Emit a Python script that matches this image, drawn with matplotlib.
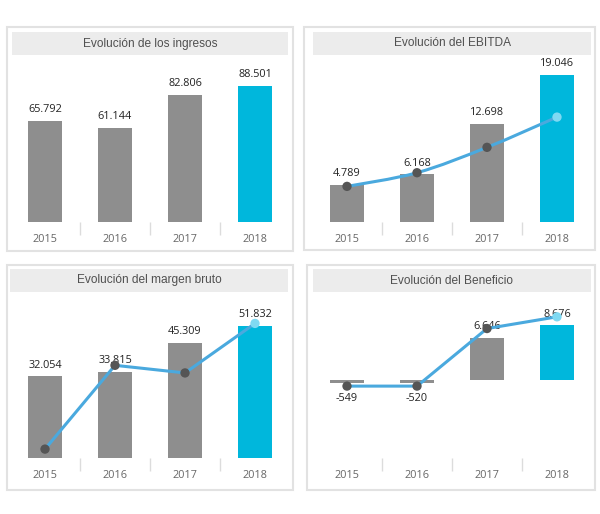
import numpy as np
import matplotlib.pyplot as plt
from matplotlib.patches import Rectangle, PathPatch
from matplotlib.path import Path

plt.rcParams['font.family'] = ['Open Sans', 'DejaVu Sans']

years = ['2015', '2016', '2017', '2018']

ingresos = [65792, 61144, 82806, 88501]
ebitda = [4789, 6168, 12698, 19046]
margen_bruto = [32054, 33815, 45309, 51832]
beneficio = [-549, -520, 6646, 8676]

# line overlays (secondary axis, % over revenue)
ebitda_pct = [7.3, 10.1, 15.3, 21.5]
bruto_pct = [48.7, 55.3, 54.7, 58.6]
neto_pct = [-0.85, -0.85, 8.0, 9.8]

GRAY = '#8e8e8e'
CYAN = '#00b7dc'
LINE = '#4aa9de'
W, H = 600, 514


def fr(x0, y0, x1, y1):
    # pixel box (top-left origin) -> figure fraction rect
    return [x0 / W, 1 - y1 / H, (x1 - x0) / W, (y1 - y0) / H]


def fmt(v):
    return f"{v:,}".replace(',', '.')


def smooth_path(xs, ys):
    pts = np.column_stack([xs, ys]).astype(float)
    verts = [pts[0]]
    codes = [Path.MOVETO]
    n = len(pts)
    for i in range(n - 1):
        p0 = pts[max(i - 1, 0)]
        p1 = pts[i]
        p2 = pts[i + 1]
        p3 = pts[min(i + 2, n - 1)]
        verts += [p1 + (p2 - p0) / 6, p2 - (p3 - p1) / 6, p2]
        codes += [Path.CURVE4] * 3
    return Path(verts, codes)


fig = plt.figure(figsize=(6, 5.14), dpi=100)

panels = [
    dict(title='Evolución de los ingresos', vals=ingresos, line=None,
         frame=(7, 27, 293, 251), head=(12, 32, 288, 55), ax=(10, 60, 290, 222),
         ylim=(0, 105400), y2=None, smooth=False),
    dict(title='Evolución del EBITDA', vals=ebitda, line=ebitda_pct,
         frame=(304, 27, 595, 250), head=(313, 32, 591, 55), ax=(312, 60, 592, 222),
         ylim=(0, 21000), y2=(0, 33.2), smooth=True),
    dict(title='Evolución del margen bruto', vals=margen_bruto, line=bruto_pct,
         frame=(7, 265, 293, 490), head=(10, 269, 288, 292), ax=(10, 296, 290, 458),
         ylim=(0, 63600), y2=(48.0, 60.76), smooth=False),
    dict(title='Evolución del Beneficio', vals=beneficio, line=neto_pct,
         frame=(307, 265, 595, 490), head=(313, 269, 591, 292), ax=(312, 296, 592, 458),
         ylim=(-12400, 13300), y2=(-11.9, 13.0), smooth=False),
]

for p in panels:
    x0, y0, x1, y1 = p['frame']
    fig.patches.append(Rectangle((x0 / W, 1 - y1 / H), (x1 - x0) / W, (y1 - y0) / H,
                                 transform=fig.transFigure, fill=False,
                                 edgecolor='#e2e2e2', lw=1.5))
    hx0, hy0, hx1, hy1 = p['head']
    fig.patches.append(Rectangle((hx0 / W, 1 - hy1 / H), (hx1 - hx0) / W, (hy1 - hy0) / H,
                                 transform=fig.transFigure, facecolor='#ececec',
                                 edgecolor='none'))
    fig.text((hx0 + hx1) / 2 / W, 1 - (hy0 + hy1) / 2 / H, p['title'],
             ha='center', va='center', fontsize=8.6, color='#505050',
             family=['Liberation Sans', 'DejaVu Sans'])

    ax = fig.add_axes(fr(*p['ax']))
    x = np.arange(len(years))
    colors = [GRAY] * (len(years) - 1) + [CYAN]
    ax.bar(x, p['vals'], width=0.48, color=colors, zorder=2)
    ax.set_xlim(-0.5, 3.5)
    ax.set_ylim(*p['ylim'])
    for s in ax.spines.values():
        s.set_visible(False)
    ax.set_yticks([])
    ax.set_xticks(x)
    ax.set_xticklabels(years, fontsize=7.8, color='#666666')
    ax.tick_params(axis='x', which='major', length=0, pad=8.5)
    ax.set_xticks([0.5, 1.5, 2.5], minor=True)
    ax.tick_params(axis='x', which='minor', length=9, color='#dcdcdc', width=1,
                   direction='out')
    for xi, v in zip(x, p['vals']):
        off = 8 if v >= 0 else -11
        ax.annotate(fmt(v), (xi, v), xytext=(0, off), textcoords='offset points',
                    ha='center', va='center', fontsize=7.8, color='#222222',
                    zorder=6)

    if p['line'] is not None:
        ax2 = ax.twinx()
        ax2.set_ylim(*p['y2'])
        ax2.set_yticks([])
        for s in ax2.spines.values():
            s.set_visible(False)
        if p['smooth']:
            ax2.add_patch(PathPatch(smooth_path(x, p['line']), fill=False,
                                    edgecolor=LINE, lw=2.2, zorder=3))
        else:
            ax2.plot(x, p['line'], color=LINE, lw=2.2, zorder=3)
        mcol = ['#555555'] * (len(years) - 1) + ['#7fd9f2']
        ax2.scatter(x, p['line'], s=45, c=mcol, zorder=4, edgecolors='none')

fig.savefig('out.png', dpi=100, facecolor='white')
